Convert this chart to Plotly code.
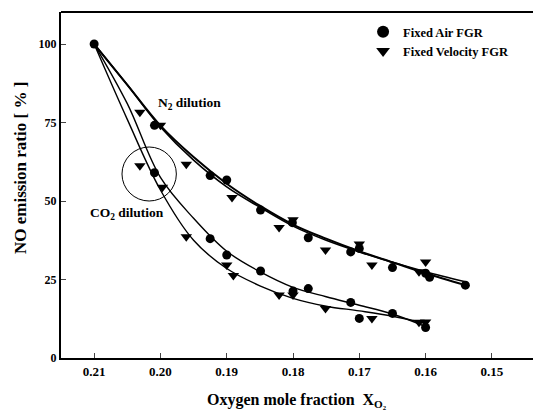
import plotly.graph_objects as go

# Measured data: Fixed Air FGR (circles)
air_n2_x = [0.21, 0.2009, 0.1925, 0.190, 0.1849, 0.1801, 0.1777, 0.1713, 0.170, 0.165, 0.160, 0.1594, 0.154]
air_n2_y = [100, 74.1, 58.1, 56.7, 47.1, 43.1, 38.3, 33.8, 34.9, 28.8, 27.0, 25.7, 23.2]
air_co2_x = [0.2009, 0.1925, 0.190, 0.1849, 0.180, 0.1777, 0.1713, 0.170, 0.165, 0.160]
air_co2_y = [59.0, 38.0, 32.8, 27.7, 21.3, 22.1, 17.7, 12.6, 14.2, 9.7]

# Measured data: Fixed Velocity FGR (triangles)
vel_n2_x = [0.2031, 0.200, 0.1961, 0.1892, 0.1821, 0.180, 0.1751, 0.170, 0.1681, 0.161, 0.160]
vel_n2_y = [78.3, 74.1, 61.7, 51.1, 41.6, 44.0, 34.4, 36.3, 29.6, 27.5, 30.6]
vel_co2_x = [0.2031, 0.1997, 0.1961, 0.190, 0.189, 0.1821, 0.180, 0.1751, 0.1681, 0.161, 0.160]
vel_co2_y = [61.2, 54.4, 38.6, 29.6, 26.3, 20.1, 20.1, 15.8, 12.6, 11.4, 11.5]

# Fitted curves
fit_n2_x = [0.21, 0.205, 0.20, 0.195, 0.19, 0.185, 0.18, 0.175, 0.17, 0.165, 0.16, 0.154]
fit_n2_air_y = [100, 87, 74, 64, 55.5, 48.5, 42.5, 38, 34, 30.5, 27, 23.2]
fit_n2_vel_y = [100, 87, 73.6, 63, 54.5, 48, 42, 37.5, 33.8, 30.5, 27.5, 24.3]
fit_co2_x = [0.21, 0.205, 0.20, 0.195, 0.19, 0.185, 0.18, 0.175, 0.17, 0.165, 0.16]
fit_co2_air_y = [100, 81, 57.5, 44.5, 34, 27.5, 22.5, 19.5, 16.8, 14, 10]
fit_co2_vel_y = [100, 76, 53.5, 37.5, 28.5, 23, 19, 16.5, 15, 13.3, 11]

x_ticks = [0.21, 0.20, 0.19, 0.18, 0.17, 0.16, 0.15]
x_ticktext = ["0.21", "0.20", "0.19", "0.18", "0.17", "0.16", "0.15"]
y_ticks = [0, 25, 50, 75, 100]

FONT = "Liberation Serif"

fig = go.Figure()

for fx, fy, w in [(fit_n2_x, fit_n2_air_y, 2), (fit_n2_x, fit_n2_vel_y, 1.6),
                  (fit_co2_x, fit_co2_air_y, 1.4), (fit_co2_x, fit_co2_vel_y, 1.4)]:
    fig.add_trace(go.Scatter(x=fx, y=fy, mode="lines", line=dict(color="black", width=w, shape="spline", smoothing=1.0),
                             showlegend=False, hoverinfo="skip"))

fig.add_trace(go.Scatter(x=air_n2_x + air_co2_x, y=air_n2_y + air_co2_y, mode="markers",
                         marker=dict(symbol="circle", size=9, color="black"), name="Fixed Air FGR"))
fig.add_trace(go.Scatter(x=vel_n2_x + vel_co2_x, y=vel_n2_y + vel_co2_y, mode="markers",
                         marker=dict(symbol="triangle-down", size=10, color="black"), name="Fixed Velocity FGR"))

fig.add_shape(type="circle", xref="x", yref="y", x0=0.2058, x1=0.1976, y0=50.0, y1=67.2,
              line=dict(color="black", width=1))
fig.add_shape(type="line", xref="paper", yref="paper", x0=0, x1=1, y0=1, y1=1,
              line=dict(color="black", width=2))

fig.add_annotation(x=0.1956, y=80.9, text="N<sub>2</sub> dilution", showarrow=False,
                   font=dict(family=FONT, size=13.5, color="black", weight="bold"))
fig.add_annotation(x=0.2051, y=45.9, text="CO<sub>2</sub> dilution", showarrow=False,
                   font=dict(family=FONT, size=13.5, color="black", weight="bold"))
fig.add_annotation(xref="paper", yref="paper", x=0.5, y=0, yanchor="top", yshift=-31,
                   text="Oxygen mole fraction  X<sub>O₂</sub>", showarrow=False,
                   font=dict(family=FONT, size=16, color="black", weight="bold"))
fig.add_annotation(xref="paper", yref="paper", x=0, xanchor="center", yanchor="middle",
                   xshift=-41, y=0.549, textangle=-90,
                   text="NO emission ratio [ % ]", showarrow=False,
                   font=dict(family=FONT, size=17, color="black", weight="bold"))

fig.update_layout(
    width=533, height=410,
    margin=dict(l=61, r=0, t=12, b=52),
    paper_bgcolor="white", plot_bgcolor="white",
    font=dict(family=FONT, color="black", weight="bold"),
    legend=dict(x=0.64, y=0.985, xanchor="left", yanchor="top", bgcolor="rgba(0,0,0,0)",
                font=dict(family=FONT, size=12.5, color="black", weight="bold"),
                itemsizing="constant", tracegroupgap=0),
    xaxis=dict(range=[0.215, 0.1438], tickvals=x_ticks, ticktext=x_ticktext, ticks="inside", ticklen=5,
               showline=True, linecolor="black", linewidth=2, showgrid=False, zeroline=False,
               tickfont=dict(family=FONT, size=13, color="black", weight="bold")),
    yaxis=dict(range=[0, 110.2], tickvals=y_ticks, ticks="inside", ticklen=5,
               showline=True, linecolor="black", linewidth=2, showgrid=False, zeroline=False,
               tickfont=dict(family=FONT, size=12, color="black", weight="bold")),
)

fig.write_html("out.html")
